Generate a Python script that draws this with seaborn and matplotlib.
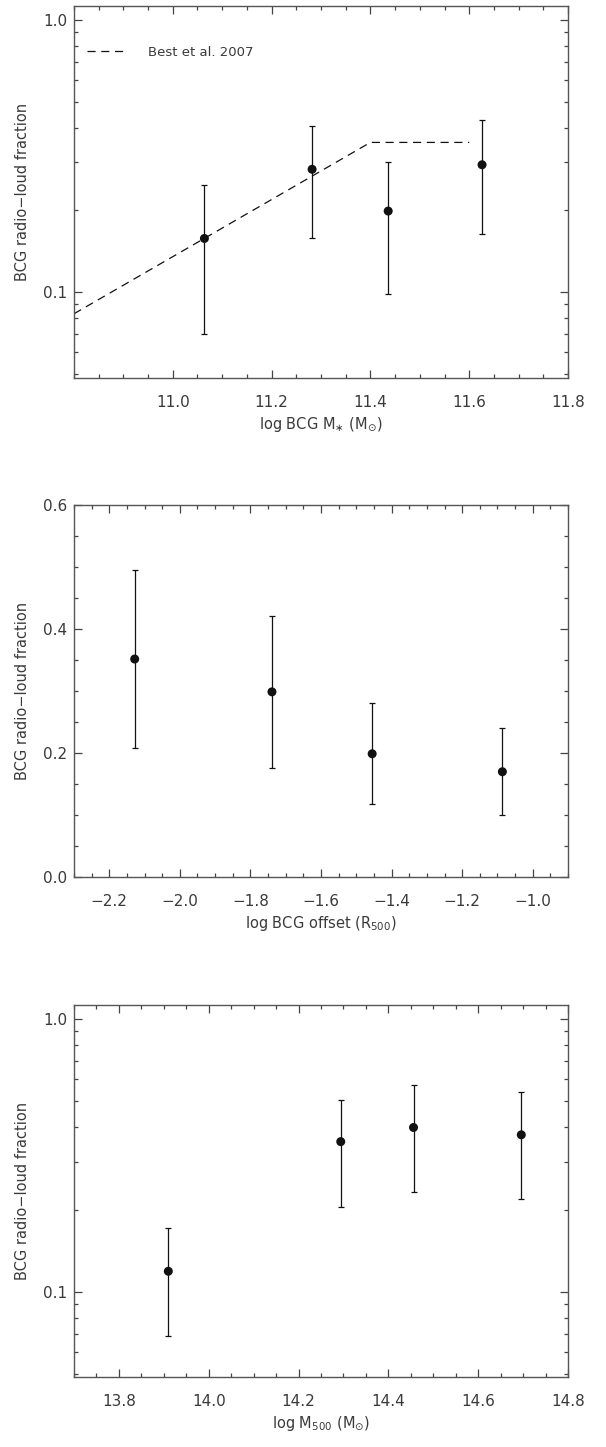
import numpy as np
import pandas as pd
import matplotlib
matplotlib.use("Agg")
import matplotlib.pyplot as plt
from matplotlib.ticker import MultipleLocator, LogLocator, NullFormatter
import seaborn as sns

# ---- Panel 1: BCG stellar mass ----
mstar_x = [11.064, 11.282, 11.436, 11.626]
mstar_f = [0.157, 0.282, 0.198, 0.293]
mstar_hi = [0.246, 0.408, 0.300, 0.427]
mstar_lo = [0.070, 0.157, 0.098, 0.163]
best_x = [10.8, 11.4, 11.6]
best_f = [0.083, 0.354, 0.354]

# ---- Panel 2: BCG offset ----
off_x = [-2.128, -1.739, -1.455, -1.086]
off_f = [0.352, 0.299, 0.199, 0.170]
off_hi = [0.496, 0.422, 0.281, 0.240]
off_lo = [0.208, 0.176, 0.118, 0.100]

# ---- Panel 3: cluster mass ----
m500_x = [13.910, 14.294, 14.456, 14.696]
m500_f = [0.119, 0.355, 0.400, 0.376]
m500_hi = [0.171, 0.506, 0.573, 0.538]
m500_lo = [0.0689, 0.205, 0.232, 0.218]

sns.set_theme(style="ticks")
TXT = "#3a3a3a"
plt.rcParams.update({
    "font.family": ["DejaVu Sans"],
    "font.size": 11,
    "text.color": TXT,
    "axes.labelcolor": TXT,
    "xtick.color": "#444444",
    "ytick.color": "#444444",
    "xtick.labelcolor": TXT,
    "ytick.labelcolor": TXT,
    "axes.edgecolor": "#555555",
    "axes.linewidth": 1.0,
    "mathtext.fontset": "dejavusans",
    "axes.unicode_minus": True,
})

fig = plt.figure(figsize=(6.06, 14.47), dpi=100)
L, W, H = 0.1221, 0.8152, 0.2568
ax1 = fig.add_axes([L, 0.7388, W, H])
ax2 = fig.add_axes([L, 0.3939, W, H])
ax3 = fig.add_axes([L, 0.0484, W, H])

YLAB = "BCG radio\u2212loud fraction"


def style(ax):
    ax.tick_params(which="both", direction="in", top=True, right=True,
                   labelsize=11, width=0.9)
    ax.tick_params(which="major", length=5.5)
    ax.tick_params(which="minor", length=3)
    ax.tick_params(axis="x", which="both", pad=12)
    ax.tick_params(axis="y", which="both", pad=5)
    for s in ax.spines.values():
        s.set_visible(True)
    ax.set_ylabel(YLAB, fontsize=10.5, labelpad=9)


def points(ax, x, f, lo, hi):
    f = np.asarray(f); lo = np.asarray(lo); hi = np.asarray(hi)
    ax.errorbar(x, f, yerr=[f - lo, hi - f], fmt="none", ecolor="#111111",
                elinewidth=0.9, capsize=2.5, capthick=0.9, zorder=2)
    df = pd.DataFrame({"x": x, "f": f})
    sns.scatterplot(data=df, x="x", y="f", ax=ax, color="#111111", s=42,
                    edgecolor="none", zorder=3, legend=False)


# Panel 1
best_df = pd.DataFrame({"x": best_x, "f": best_f})
sns.lineplot(data=best_df, x="x", y="f", ax=ax1, color="#111111", lw=0.9,
             linestyle=(0, (6.5, 4.5)), label="Best et al. 2007")
points(ax1, mstar_x, mstar_f, mstar_lo, mstar_hi)
ax1.set_yscale("log")
ax1.set_xlim(10.8, 11.8)
ax1.set_ylim(0.0482, 1.12)
ax1.set_xticks([11.0, 11.2, 11.4, 11.6, 11.8])
ax1.xaxis.set_minor_locator(MultipleLocator(0.05))
ax1.set_yticks([0.1, 1.0], labels=["0.1", "1.0"])
ax1.yaxis.set_minor_locator(LogLocator(base=10, subs=np.arange(2, 10)))
ax1.yaxis.set_minor_formatter(NullFormatter())
ax1.set_xlabel(r"log BCG M$_{\ast}$ (M$_{\odot}$)", fontsize=10.5, labelpad=4)
style(ax1)
leg = ax1.legend(loc="upper left", bbox_to_anchor=(0.003, 0.925), frameon=False,
                 handlelength=2.9, handletextpad=1.7, fontsize=9.5)

# Panel 2
points(ax2, off_x, off_f, off_lo, off_hi)
ax2.set_xlim(-2.3, -0.9)
ax2.set_ylim(0.0, 0.6)
ax2.set_xticks([-2.2, -2.0, -1.8, -1.6, -1.4, -1.2, -1.0])
ax2.xaxis.set_minor_locator(MultipleLocator(0.05))
ax2.set_yticks([0.0, 0.2, 0.4, 0.6], labels=["0.0", "0.2", "0.4", "0.6"])
ax2.yaxis.set_minor_locator(MultipleLocator(0.05))
ax2.set_xlabel(r"log BCG offset (R$_{500}$)", fontsize=10.5, labelpad=4)
style(ax2)

# Panel 3
points(ax3, m500_x, m500_f, m500_lo, m500_hi)
ax3.set_yscale("log")
ax3.set_xlim(13.7, 14.8)
ax3.set_ylim(0.0488, 1.12)
ax3.set_xticks([13.8, 14.0, 14.2, 14.4, 14.6, 14.8])
ax3.xaxis.set_minor_locator(MultipleLocator(0.05))
ax3.set_yticks([0.1, 1.0], labels=["0.1", "1.0"])
ax3.yaxis.set_minor_locator(LogLocator(base=10, subs=np.arange(2, 10)))
ax3.yaxis.set_minor_formatter(NullFormatter())
ax3.set_xlabel(r"log M$_{500}$ (M$_{\odot}$)", fontsize=10.5, labelpad=4)
style(ax3)

fig.savefig("out.png", dpi=100)
